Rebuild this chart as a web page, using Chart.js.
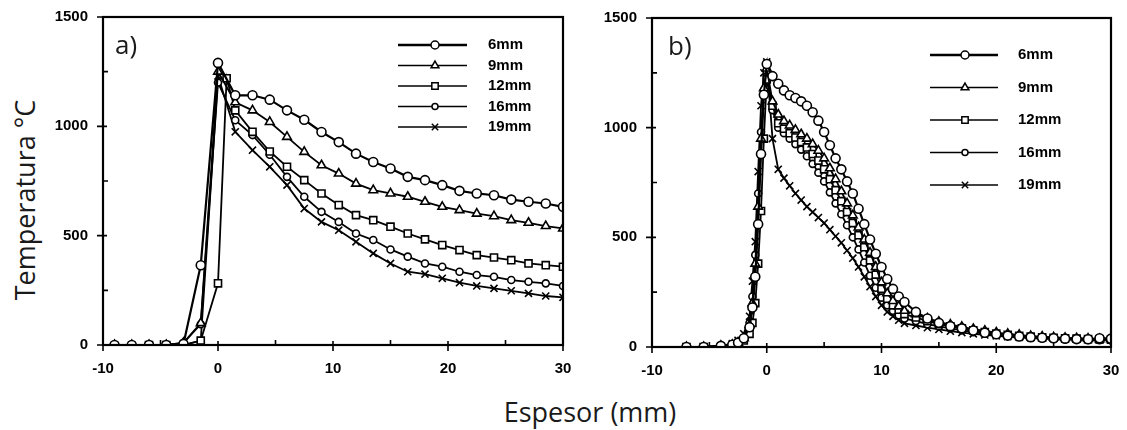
<!DOCTYPE html>
<html>
<head>
<meta charset="utf-8">
<title>Temperatura vs espesor</title>
<script src="https://cdn.jsdelivr.net/npm/chart.js@4.4.1/dist/chart.umd.min.js"></script>
<style>
    body { margin: 0; background: #fff; width: 1127px; height: 430px; position: relative; overflow: hidden; font-family: 'Open Sans', sans-serif; }
    .panel { position: absolute; top: 0; height: 380px; }
    #wrapA { left: 40px; width: 540px; }
    #wrapB { left: 590px; width: 537px; }
    #tituloY { position: absolute; left: 24px; top: 200px; transform: translate(-50%, -50%) rotate(-90deg); font-size: 27px; color: #1a1a1a; white-space: nowrap; }
    #tituloX { position: absolute; left: 590px; top: 411px; transform: translate(-50%, -50%); font-size: 27px; color: #1a1a1a; white-space: nowrap; }
</style>
</head>
<body>
<div id="tituloY">Temperatura °C</div>
<div class="panel" id="wrapA"><canvas id="graficoA" width="540" height="380"></canvas></div>
<div class="panel" id="wrapB"><canvas id="graficoB" width="537" height="380"></canvas></div>
<div id="tituloX">Espesor (mm)</div>

<script>
// Series (espesor de placa)
const series = ['6mm', '9mm', '12mm', '16mm', '19mm'];

// Ticks de los ejes
const xMayores = [-10, 0, 10, 20, 30];
const xMenores = [-5, 5, 15, 25];
const yMayores = [0, 500, 1000, 1500];
const yMenores = [250, 750, 1250];

// ---- Gráfico a) ----
const xA = [-9, -7.5, -6, -4.5, -3, -1.5, 0, 1.5, 3, 4.5, 6, 7.5, 9, 10.5, 12, 13.5, 15, 16.5, 18, 19.5, 21, 22.5, 24, 25.5, 27, 28.5, 30];
const xA12 = [-6, -4.5, -3, -1.5, 0, 0.75, 1.5, 3, 4.5, 6, 7.5, 9, 10.5, 12, 13.5, 15, 16.5, 18, 19.5, 21, 22.5, 24, 25.5, 27, 28.5, 30];
const a6 = [0, 0, 0, 0, 5, 365, 1290, 1142, 1142, 1122, 1073, 1030, 974, 928, 875, 837, 807, 769, 754, 731, 705, 693, 685, 665, 655, 647, 632];
const a9 = [0, 0, 0, 0, 10, 100, 1250, 1110, 1073, 1020, 952, 883, 822, 784, 738, 708, 693, 678, 655, 632, 617, 601, 589, 571, 559, 544, 533];
const a12 = [0, 0, 0, 20, 282, 1220, 1073, 975, 885, 815, 754, 693, 640, 594, 571, 541, 510, 483, 457, 434, 411, 400, 388, 373, 365, 358];
const a16 = [0, 0, 0, 0, 10, 95, 1200, 1028, 960, 870, 769, 678, 609, 563, 510, 480, 437, 404, 373, 358, 335, 320, 312, 297, 289, 282, 270];
const a19 = [0, 0, 0, 0, 0, 20, 1230, 975, 891, 815, 731, 624, 563, 525, 472, 419, 373, 335, 324, 305, 285, 270, 259, 248, 236, 224, 218];

// ---- Gráfico b) ----
const xB = [-7, -5.5, -4, -3, -2.5, -2, -1.5, -1.25, -1, -0.75, -0.5, -0.25, 0,
    0.5, 1, 1.5, 2, 2.5, 3, 3.5, 4, 4.5, 5, 5.5, 6, 6.5, 7, 7.5, 8, 8.5, 9, 9.5, 10, 10.5, 11, 11.5, 12,
    13, 14, 15, 16, 17, 18, 19, 20, 21, 22, 23, 24, 25, 26, 27, 28, 29, 30];
const b6 = [0, 0, 5, 10, 20, 40, 90, 180, 320, 560, 880, 1150, 1290,
    1235, 1200, 1170, 1148, 1135, 1120, 1100, 1070, 1032, 980, 920, 860, 810, 755, 700, 630, 560, 490, 425, 365, 310, 265, 230, 205,
    160, 130, 110, 95, 85, 75, 65, 58, 52, 48, 45, 42, 40, 38, 36, 35, 40, 38];
const b9 = [0, 0, 5, 10, 20, 40, 100, 200, 380, 640, 950, 1180, 1270,
    1120, 1060, 1030, 1010, 990, 970, 950, 925, 895, 860, 815, 765, 710, 655, 600, 545, 490, 430, 365, 295, 245, 210, 185, 165,
    150, 130, 115, 102, 92, 82, 74, 66, 60, 55, 50, 47, 44, 42, 40, 38, 36, 35];
const b12 = [0, 0, 0, 5, 10, 30, 60, 110, 200, 380, 620, 950, 1220,
    1100, 1020, 995, 975, 955, 935, 910, 880, 850, 810, 765, 715, 665, 615, 565, 510, 455, 395, 330, 265, 220, 190, 170, 150,
    135, 118, 104, 94, 85, 76, 68, 61, 55, 51, 47, 44, 42, 40, 38, 36, 35, 34];
const b16 = [0, 0, 5, 10, 20, 40, 110, 230, 420, 700, 980, 1170, 1260,
    1080, 1000, 975, 950, 925, 900, 870, 835, 795, 755, 705, 655, 605, 555, 500, 445, 385, 325, 270, 225, 190, 165, 145, 130,
    118, 104, 94, 85, 76, 68, 61, 55, 50, 46, 42, 40, 38, 36, 34, 32, 31, 30];
const b19 = [0, 0, 5, 15, 30, 60, 140, 300, 480, 800, 1100, 1250, 1300,
    950, 810, 770, 735, 700, 670, 640, 615, 590, 565, 535, 505, 475, 440, 405, 365, 320, 275, 230, 190, 160, 140, 122, 108,
    98, 88, 80, 72, 66, 60, 55, 51, 47, 44, 42, 40, 38, 36, 35, 34, 33, 32];

// Estilo de marcador por serie
const marcadores = [
    { pointStyle: 'circle', radius: 4.5, lineWidth: 2.2 },
    { pointStyle: 'triangle', radius: 5, lineWidth: 1.8 },
    { pointStyle: 'rect', radius: 5, lineWidth: 1.8 },
    { pointStyle: 'circle', radius: 3.5, lineWidth: 1.8 },
    { pointStyle: 'crossRot', radius: 5, lineWidth: 1.8 }
];

const fuenteTicks = { family: "'Liberation Sans', Arial, sans-serif", size: 15, weight: 'bold' };

function puntos(xs, ys) {
    return xs.map((x, i) => ({ x: x, y: ys[i] }));
}

function crearDatasets(listaX, listaY) {
    return series.map((nombre, i) => ({
        label: nombre,
        data: puntos(listaX[i], listaY[i]),
        showLine: true,
        borderColor: '#000',
        borderWidth: marcadores[i].lineWidth,
        pointStyle: marcadores[i].pointStyle,
        pointRadius: marcadores[i].radius,
        pointBackgroundColor: '#fff',
        pointBorderColor: '#000',
        pointBorderWidth: 1.6,
        tension: 0
    }));
}

// Marco, ticks, letra del panel y leyenda dibujados a mano
const marcoPlugin = {
    id: 'marco',
    afterDatasetsDraw(chart, args, opts) {
        const ctx = chart.ctx;
        const a = chart.chartArea;
        const sx = chart.scales.x, sy = chart.scales.y;
        ctx.save();
        ctx.strokeStyle = '#000';
        ctx.lineWidth = 2.2;
        ctx.strokeRect(a.left, a.top, a.right - a.left, a.bottom - a.top);
        ctx.lineWidth = 1.6;
        ctx.beginPath();
        xMayores.forEach(v => { const p = sx.getPixelForValue(v); ctx.moveTo(p, a.bottom + 6); ctx.lineTo(p, a.bottom - 4); });
        xMenores.forEach(v => { const p = sx.getPixelForValue(v); ctx.moveTo(p, a.bottom); ctx.lineTo(p, a.bottom - 5); });
        yMayores.forEach(v => { const p = sy.getPixelForValue(v); ctx.moveTo(a.left - 6, p); ctx.lineTo(a.left + 4, p); });
        yMenores.forEach(v => { const p = sy.getPixelForValue(v); ctx.moveTo(a.left, p); ctx.lineTo(a.left + 5, p); });
        ctx.stroke();

        // letra del panel
        ctx.fillStyle = '#1a1a1a';
        ctx.font = "26px 'Open Sans', sans-serif";
        ctx.textBaseline = 'middle';
        ctx.fillText(opts.letra, a.left + opts.letraDx, a.top + 30);

        // leyenda
        const L = opts.leyenda;
        ctx.font = "bold 15px 'Liberation Sans', Arial, sans-serif";
        chart.data.datasets.forEach((ds, i) => {
            const y = L.y0 + i * L.dy;
            ctx.strokeStyle = '#000';
            ctx.lineWidth = i === 0 ? 2.5 : 1.5;
            ctx.beginPath();
            ctx.moveTo(L.x1, y);
            ctx.lineTo(L.x2, y);
            ctx.stroke();
            ctx.fillStyle = '#fff';
            ctx.lineWidth = 1.5;
            Chart.helpers.drawPoint(ctx, { pointStyle: ds.pointStyle, radius: ds.pointRadius - 0.5, rotation: 0, borderWidth: 1.5 }, L.xm, y);
            ctx.fillStyle = '#000';
            ctx.fillText(ds.label, L.xt, y);
        });
        ctx.restore();
    }
};

function crearGrafico(id, datasets, ancho, padding, marco) {
    const ctx = document.getElementById(id).getContext('2d');
    return new Chart(ctx, {
        type: 'scatter',
        data: { datasets: datasets },
        options: {
            responsive: false,
            animation: false,
            layout: { padding: padding },
            plugins: {
                legend: { display: false },
                tooltip: { enabled: false },
                marco: marco
            },
            scales: {
                x: {
                    type: 'linear', min: -10, max: 30,
                    ticks: { stepSize: 10, color: '#000', font: fuenteTicks, padding: 15, callback: v => String(v) },
                    grid: { display: false, drawTicks: false },
                    border: { display: false },
                    afterFit(s) { s.height = ancho.alto; s.paddingLeft = 0; s.paddingRight = 0; }
                },
                y: {
                    min: 0, max: 1500,
                    ticks: { stepSize: 500, color: '#000', font: fuenteTicks, padding: 15, callback: v => String(v) },
                    grid: { display: false, drawTicks: false },
                    border: { display: false },
                    afterFit(s) { s.width = ancho.ancho; s.paddingTop = 0; s.paddingBottom = 0; }
                }
            }
        },
        plugins: [marcoPlugin]
    });
}

crearGrafico('graficoA',
    crearDatasets([xA, xA, xA12, xA, xA], [a6, a9, a12, a16, a19]),
    { ancho: 63, alto: 35 },
    { top: 17, right: 17, left: 0, bottom: 0 },
    { letra: 'a)', letraDx: 12, leyenda: { x1: 358, x2: 427, xm: 395, xt: 448, y0: 45, dy: 20.5 } });

crearGrafico('graficoB',
    crearDatasets([xB, xB, xB, xB, xB], [b6, b9, b12, b16, b19]),
    { ancho: 62, alto: 33 },
    { top: 18, right: 16, left: 0, bottom: 0 },
    { letra: 'b)', letraDx: 16, leyenda: { x1: 340, x2: 408, xm: 375, xt: 428, y0: 55, dy: 32.5 } });
</script>
</body>
</html>
